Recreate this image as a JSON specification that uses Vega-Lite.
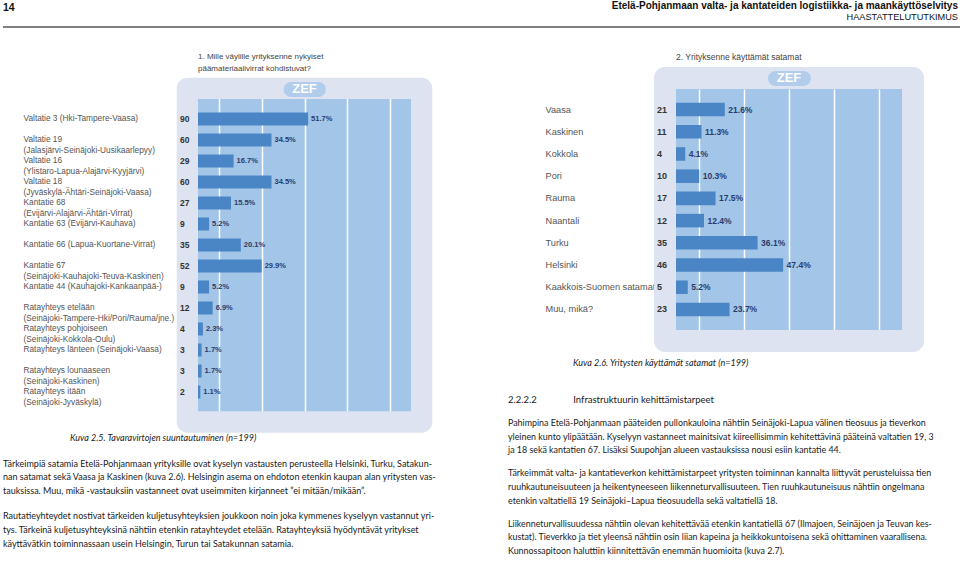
{
  "$schema": "https://vega.github.io/schema/vega-lite/v6.json",
  "padding": {"left": 2, "top": 0, "right": 0, "bottom": 0},
  "background": "white",
  "config": {"view": {"stroke": null}, "font": "Liberation Sans"},
  "datasets": {
    "roads": [
      {"route": "Valtatie 3 (Hki-Tampere-Vaasa)", "count": 90, "share": 0.517},
      {"route": "Valtatie 19\n(Jalasjärvi-Seinäjoki-Uusikaarlepyy)", "count": 60, "share": 0.345},
      {"route": "Valtatie 16\n(Ylistaro-Lapua-Alajärvi-Kyyjärvi)", "count": 29, "share": 0.167},
      {"route": "Valtatie 18\n(Jyväskylä-Ähtäri-Seinäjoki-Vaasa)", "count": 60, "share": 0.345},
      {"route": "Kantatie 68\n(Evijärvi-Alajärvi-Ähtäri-Virrat)", "count": 27, "share": 0.155},
      {"route": "Kantatie 63 (Evijärvi-Kauhava)", "count": 9, "share": 0.052},
      {"route": "Kantatie 66 (Lapua-Kuortane-Virrat)", "count": 35, "share": 0.201},
      {"route": "Kantatie 67\n(Seinäjoki-Kauhajoki-Teuva-Kaskinen)", "count": 52, "share": 0.299},
      {"route": "Kantatie 44 (Kauhajoki-Kankaanpää-)", "count": 9, "share": 0.052},
      {"route": "Ratayhteys etelään\n(Seinäjoki-Tampere-Hki/Pori/Rauma/jne.)", "count": 12, "share": 0.069},
      {"route": "Ratayhteys pohjoiseen\n(Seinäjoki-Kokkola-Oulu)", "count": 4, "share": 0.023},
      {"route": "Ratayhteys länteen (Seinäjoki-Vaasa)", "count": 3, "share": 0.017},
      {"route": "Ratayhteys lounaaseen\n(Seinäjoki-Kaskinen)", "count": 3, "share": 0.017},
      {"route": "Ratayhteys itään\n(Seinäjoki-Jyväskylä)", "count": 2, "share": 0.011}
    ],
    "ports": [
      {"port": "Vaasa", "count": 21, "share": 0.216},
      {"port": "Kaskinen", "count": 11, "share": 0.113},
      {"port": "Kokkola", "count": 4, "share": 0.041},
      {"port": "Pori", "count": 10, "share": 0.103},
      {"port": "Rauma", "count": 17, "share": 0.175},
      {"port": "Naantali", "count": 12, "share": 0.124},
      {"port": "Turku", "count": 35, "share": 0.361},
      {"port": "Helsinki", "count": 46, "share": 0.474},
      {"port": "Kaakkois-Suomen satamat", "count": 5, "share": 0.052},
      {"port": "Muu, mikä?", "count": 23, "share": 0.237}
    ]
  },
  "spacing": 25,
  "vconcat": [
    {
      "width": 763,
      "height": 27,
      "view": {"fill": null, "stroke": null},
      "data": {"values": [{}]},
      "layer": [
        {
          "mark": {"type": "rect", "color": "#7f7f7f"},
          "encoding": {
            "x": {"datum": -0.2556, "scale": {"domain": [0, 1]}, "axis": null},
            "x2": {"datum": 1},
            "y": {"datum": -0.037, "scale": {"domain": [0, 1]}, "axis": null},
            "y2": {"datum": 0.037}
          }
        },
        {
          "mark": {"type": "text", "align": "left", "baseline": "middle", "fontWeight": "bold", "fontSize": 10.5, "color": "#111"},
          "encoding": {
            "x": {"datum": -0.2556, "scale": {"domain": [0, 1]}},
            "y": {"datum": 0.7, "scale": {"domain": [0, 1]}},
            "text": {"value": "14"}
          }
        },
        {
          "mark": {"type": "text", "align": "right", "baseline": "middle", "dx": -3, "fontWeight": "bold", "fontSize": 10, "color": "#111"},
          "encoding": {
            "x": {"datum": 1, "scale": {"domain": [0, 1]}},
            "y": {"datum": 0.78, "scale": {"domain": [0, 1]}},
            "text": {"value": "Etelä-Pohjanmaan valta- ja kantateiden logistiikka- ja maankäyttöselvitys"}
          }
        },
        {
          "mark": {"type": "text", "align": "right", "baseline": "middle", "dx": -3, "fontSize": 9.2, "color": "#111"},
          "encoding": {
            "x": {"datum": 1, "scale": {"domain": [0, 1]}},
            "y": {"datum": 0.37, "scale": {"domain": [0, 1]}},
            "text": {"value": "HAASTATTELUTUTKIMUS"}
          }
        }
      ]
    },
    {
      "hconcat": [
        {
          "vconcat": [
            {
              "vconcat": [
                {
                  "width": 213,
                  "height": 323,
                  "view": {"fill": "#a3c5e8", "stroke": null},
                  "title": {"text": ["1. Mille väylille yrityksenne nykyiset", "päämateriaalivirrat kohdistuvat?"], "anchor": "start", "frame": "group", "fontSize": 8, "fontWeight": "normal", "font": "Liberation Sans", "color": "#444", "lineHeight": 12, "offset": 4.5},
                  "resolve": {"scale": {"y": "independent"}, "axis": {"y": "independent"}},
                  "layer": [
                    {
                      "data": {"values": [{}]},
                      "layer": [
                        {
                          "mark": {"type": "rect", "filled": false, "stroke": "#dde3f1", "strokeWidth": 21.3, "strokeJoin": "round"},
                          "encoding": {
                            "x": {"datum": -0.05, "scale": {"domain": [0, 1]}},
                            "x2": {"datum": 1.05},
                            "y": {"datum": -0.031, "scale": {"domain": [0, 1]}, "axis": null},
                            "y2": {"datum": 1.002}
                          }
                        },
                        {
                          "mark": {"type": "rect", "color": "#b2cdeb", "cornerRadius": 7.5},
                          "encoding": {
                            "x": {"datum": 0.402, "scale": {"domain": [0, 1]}},
                            "x2": {"datum": 0.6},
                            "y": {"datum": 0.975, "scale": {"domain": [0, 1]}, "axis": null},
                            "y2": {"datum": 1.0217}
                          }
                        },
                        {
                          "mark": {"type": "text", "align": "center", "baseline": "middle", "fontWeight": "bold", "fontSize": 13, "color": "white"},
                          "encoding": {
                            "x": {"datum": 0.5, "scale": {"domain": [0, 1]}},
                            "y": {"datum": 0.9985, "scale": {"domain": [0, 1]}, "axis": null},
                            "text": {"value": "ZEF"}
                          }
                        }
                      ]
                    },
                    {
                      "data": {"name": "roads"},
                      "layer": [
                        {
                          "mark": {"type": "bar", "color": "#4a86c5"},
                          "encoding": {
                            "y": {"field": "route", "type": "nominal", "sort": null, "scale": {"paddingInner": 0.38, "paddingOuter": 0.88, "align": 0.635},
                              "axis": {"orient": "left", "title": null, "domain": false, "ticks": false, "tickSize": 0, "labelAlign": "left", "labelPadding": 175, "labelExpr": "split(datum.label, '\\n')", "labelLineHeight": 11, "labelFontSize": 8.3, "labelColor": "#555", "labelFont": "Liberation Sans", "labelLimit": 300}},
                            "x": {"field": "share", "type": "quantitative", "scale": {"domain": [0, 1], "nice": false},
                              "axis": {"values": [0.1, 0.2, 0.3, 0.4, 0.5, 0.6, 0.7, 0.8, 0.9], "grid": true, "gridColor": "white", "gridWidth": 1.5, "gridOpacity": 1, "labels": false, "ticks": false, "domain": false, "title": null}}
                          }
                        },
                        {
                          "mark": {"type": "text", "align": "left", "baseline": "middle", "dx": -18, "fontWeight": "bold", "fontSize": 8.5, "color": "#333"},
                          "encoding": {
                            "y": {"field": "route", "type": "nominal", "sort": null},
                            "x": {"datum": 0, "scale": {"domain": [0, 1]}},
                            "text": {"field": "count", "type": "quantitative"}
                          }
                        },
                        {
                          "mark": {"type": "text", "align": "left", "baseline": "middle", "dx": 3, "fontWeight": "bold", "fontSize": 7.5, "color": "#2a3b6b"},
                          "encoding": {
                            "y": {"field": "route", "type": "nominal", "sort": null},
                            "x": {"field": "share", "type": "quantitative", "scale": {"domain": [0, 1]}},
                            "text": {"field": "share", "type": "quantitative", "format": ".1%"}
                          }
                        }
                      ]
                    }
                  ]
                }
              ],
              "title": {"text": "Kuva 2.5. Tavaravirtojen suuntautuminen (n=199)", "orient": "bottom", "anchor": "start", "dx": 47, "offset": 1, "font": "Lato", "fontStyle": "italic", "fontWeight": "normal", "fontSize": 9, "color": "#1a1a1a"}
            }
          ],
          "title": {
            "text": [
              "Tärkeimpiä satamia Etelä-Pohjanmaan yrityksille ovat kyselyn vastausten perusteella Helsinki, Turku, Satakun-",
              "nan satamat sekä Vaasa ja Kaskinen (kuva 2.6). Helsingin asema on ehdoton etenkin kaupan alan yritysten vas-",
              "tauksissa. Muu, mikä -vastauksiin vastanneet ovat useimmiten kirjanneet ”ei mitään/mikään”."
            ],
            "subtitle": [
              "Rautatieyhteydet nostivat tärkeiden kuljetusyhteyksien joukkoon noin joka kymmenes kyselyyn vastannut yri-",
              "tys. Tärkeinä kuljetusyhteyksinä nähtiin etenkin ratayhteydet etelään. Ratayhteyksiä hyödyntävät yritykset",
              "käyttävätkin toiminnassaan usein Helsingin, Turun tai Satakunnan satamia."
            ],
            "orient": "bottom", "anchor": "start", "dx": -20, "offset": 17,
            "font": "Lato", "fontWeight": "normal", "fontSize": 9, "lineHeight": 13.8, "color": "#1a1a1a",
            "subtitleFont": "Lato", "subtitleFontSize": 9, "subtitleLineHeight": 13.8, "subtitleColor": "#1a1a1a", "subtitlePadding": 16
          }
        },
        {
          "vconcat": [
            {
              "vconcat": [
                {
                  "vconcat": [
                    {
                      "width": 226,
                      "height": 241,
                      "view": {"fill": "#a3c5e8", "stroke": null},
                      "title": {"text": "2. Yrityksenne käyttämät satamat", "anchor": "start", "frame": "group", "fontSize": 8.5, "fontWeight": "normal", "font": "Liberation Sans", "color": "#444", "offset": 5.5},
                      "resolve": {"scale": {"y": "independent"}, "axis": {"y": "independent"}},
                      "layer": [
                        {
                          "data": {"values": [{}]},
                          "layer": [
                            {
                              "mark": {"type": "rect", "filled": false, "stroke": "#dde3f1", "strokeWidth": 22, "strokeJoin": "round"},
                              "encoding": {
                                "x": {"datum": -0.0487, "scale": {"domain": [0, 1]}},
                                "x2": {"datum": 1.0487},
                                "y": {"datum": -0.0456, "scale": {"domain": [0, 1]}, "axis": null},
                                "y2": {"datum": 1.0456}
                              }
                            },
                            {
                              "mark": {"type": "rect", "color": "#b2cdeb", "cornerRadius": 7.5},
                              "encoding": {
                                "x": {"datum": 0.407, "scale": {"domain": [0, 1]}},
                                "x2": {"datum": 0.597},
                                "y": {"datum": 1.012, "scale": {"domain": [0, 1]}, "axis": null},
                                "y2": {"datum": 1.075}
                              }
                            },
                            {
                              "mark": {"type": "text", "align": "center", "baseline": "middle", "fontWeight": "bold", "fontSize": 13, "color": "white"},
                              "encoding": {
                                "x": {"datum": 0.5, "scale": {"domain": [0, 1]}},
                                "y": {"datum": 1.044, "scale": {"domain": [0, 1]}, "axis": null},
                                "text": {"value": "ZEF"}
                              }
                            }
                          ]
                        },
                        {
                          "data": {"name": "ports"},
                          "layer": [
                            {
                              "mark": {"type": "bar", "color": "#4a86c5"},
                              "encoding": {
                                "y": {"field": "port", "type": "nominal", "sort": null, "scale": {"paddingInner": 0.39, "paddingOuter": 0.62},
                                  "axis": {"orient": "left", "title": null, "domain": false, "ticks": false, "tickSize": 0, "labelAlign": "left", "labelPadding": 131, "labelFontSize": 9.2, "labelColor": "#555", "labelFont": "Liberation Sans", "labelLimit": 300}},
                                "x": {"field": "share", "type": "quantitative", "scale": {"domain": [0, 1], "nice": false},
                                  "axis": {"values": [0.1, 0.2, 0.3, 0.4, 0.5, 0.6, 0.7, 0.8, 0.9], "grid": true, "gridColor": "white", "gridWidth": 1.5, "gridOpacity": 1, "labels": false, "ticks": false, "domain": false, "title": null}}
                              }
                            },
                            {
                              "mark": {"type": "text", "align": "left", "baseline": "middle", "dx": -19, "fontWeight": "bold", "fontSize": 9, "color": "#333"},
                              "encoding": {
                                "y": {"field": "port", "type": "nominal", "sort": null},
                                "x": {"datum": 0, "scale": {"domain": [0, 1]}},
                                "text": {"field": "count", "type": "quantitative"}
                              }
                            },
                            {
                              "mark": {"type": "text", "align": "left", "baseline": "middle", "dx": 3.5, "fontWeight": "bold", "fontSize": 8.5, "color": "#2a3b6b"},
                              "encoding": {
                                "y": {"field": "port", "type": "nominal", "sort": null},
                                "x": {"field": "share", "type": "quantitative", "scale": {"domain": [0, 1]}},
                                "text": {"field": "share", "type": "quantitative", "format": ".1%"}
                              }
                            }
                          ]
                        }
                      ]
                    }
                  ],
                  "title": {"text": "Kuva 2.6. Yritysten käyttämät satamat (n=199)", "orient": "bottom", "anchor": "start", "dx": 28, "offset": 7.5, "font": "Lato", "fontStyle": "italic", "fontWeight": "normal", "fontSize": 9, "color": "#1a1a1a"}
                }
              ],
              "title": {
                "text": "2.2.2.2\u00a0\u00a0\u00a0\u00a0\u00a0\u00a0\u00a0\u00a0\u00a0\u00a0\u00a0\u00a0\u00a0\u00a0\u00a0Infrastruktuurin kehittämistarpeet",
                "subtitle": [
                  "Pahimpina Etelä-Pohjanmaan pääteiden pullonkauloina nähtiin Seinäjoki-Lapua välinen tieosuus ja tieverkon",
                  "yleinen kunto ylipäätään. Kyselyyn vastanneet mainitsivat kiireellisimmin kehitettävinä pääteinä valtatien 19, 3",
                  "ja 18 sekä kantatien 67. Lisäksi Suupohjan alueen vastauksissa nousi esiin kantatie 44."
                ],
                "orient": "bottom", "anchor": "start", "dx": -37, "offset": 27,
                "font": "Lato", "fontWeight": "normal", "fontSize": 9.5, "color": "#1a1a1a",
                "subtitleFont": "Lato", "subtitleFontSize": 8.9, "subtitleLineHeight": 13.7, "subtitleColor": "#1a1a1a", "subtitlePadding": 14
              }
            }
          ],
          "title": {
            "text": [
              "Tärkeimmät valta- ja kantatieverkon kehittämistarpeet yritysten toiminnan kannalta liittyvät perusteluissa tien",
              "ruuhkautuneisuuteen ja heikentyneeseen liikenneturvallisuuteen. Tien ruuhkautuneisuus nähtiin ongelmana",
              "etenkin valtatiellä 19 Seinäjoki–Lapua tieosuudella sekä valtatiellä 18."
            ],
            "subtitle": [
              "Liikenneturvallisuudessa nähtiin olevan kehitettävää etenkin kantatiellä 67 (Ilmajoen, Seinäjoen ja Teuvan kes-",
              "kustat).  Tieverkko ja tiet yleensä nähtiin osin liian kapeina ja heikkokuntoisena sekä ohittaminen vaarallisena.",
              "Kunnossapitoon haluttiin kiinnitettävän enemmän huomioita (kuva 2.7)."
            ],
            "orient": "bottom", "anchor": "start", "dx": 0, "offset": 14,
            "font": "Lato", "fontWeight": "normal", "fontSize": 8.9, "lineHeight": 13.7, "color": "#1a1a1a",
            "subtitleFont": "Lato", "subtitleFontSize": 8.9, "subtitleLineHeight": 13.7, "subtitleColor": "#1a1a1a", "subtitlePadding": 14
          }
        }
      ],
      "spacing": 71
    }
  ]
}
